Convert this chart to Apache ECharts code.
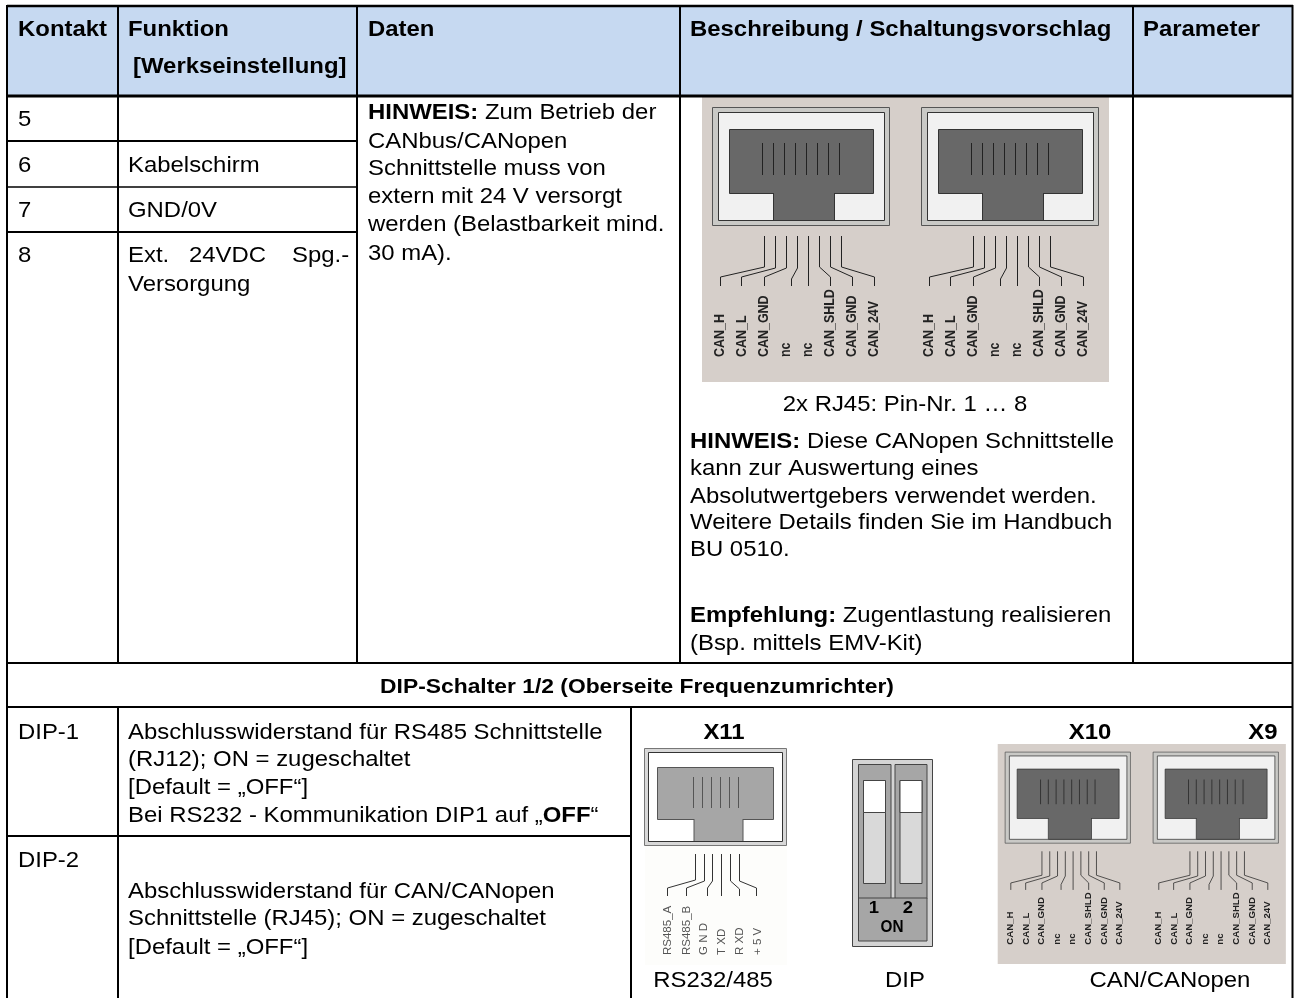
<!DOCTYPE html>
<html>
<head>
<meta charset="utf-8">
<title>Kontakt</title>
<style>html,body{margin:0;padding:0;background:#fff}#chart{width:1294px;height:998px}</style>
<script src="https://cdn.jsdelivr.net/npm/echarts@6/dist/echarts.min.js"></script>
</head>
<body>
<div id="chart"></div>
<script>
// table content
const headers = ['Kontakt', 'Funktion', '[Werkseinstellung]', 'Daten', 'Beschreibung / Schaltungsvorschlag', 'Parameter'];
const contacts = ['5', '6', '7', '8'];
const functions = ['Kabelschirm', 'GND/0V', 'Ext.', '24VDC', 'Spg.-', 'Versorgung'];
const datenLines = ['{b|HINWEIS:} Zum Betrieb der', 'CANbus/CANopen', 'Schnittstelle muss von', 'extern mit 24 V versorgt', 'werden (Belastbarkeit mind.', '30 mA).'];
const pinCaption = '2x RJ45: Pin-Nr. 1 … 8';
const hinweisLines = ['{b|HINWEIS:} Diese CANopen Schnittstelle', 'kann zur Auswertung eines', 'Absolutwertgebers verwendet werden.', 'Weitere Details finden Sie im Handbuch', 'BU 0510.'];
const empfehlungLines = ['{b|Empfehlung:} Zugentlastung realisieren', '(Bsp. mittels EMV-Kit)'];
const dipTitle = 'DIP-Schalter 1/2 (Oberseite Frequenzumrichter)';
const dipNames = ['DIP-1', 'DIP-2'];
const dip1Lines = ['Abschlusswiderstand für RS485 Schnittstelle', '(RJ12); ON = zugeschaltet', '[Default = „OFF“]', 'Bei RS232 - Kommunikation DIP1 auf „{b|OFF}“'];
const dip2Lines = ['Abschlusswiderstand für CAN/CANopen', 'Schnittstelle (RJ45); ON = zugeschaltet', '[Default = „OFF“]'];
const canPins = ['CAN_H', 'CAN_L', 'CAN_GND', 'nc', 'nc', 'CAN_SHLD', 'CAN_GND', 'CAN_24V'];
const rsPins = ['RS485_A', 'RS485_B', 'G N D', 'T XD', 'R XD', '+ 5 V'];
const portNames = ['X11', 'X10', 'X9'];
const captions = ['RS232/485', 'DIP', 'CAN/CANopen'];

const FONT = '"Liberation Sans", Arial, sans-serif';
const SIZE = 22;
const STRETCH = 1.087;   // the scan is a bit wider than tall
const els = [];

function rect(x, y, w, h, fill, stroke, lw) {
  return { type: 'rect', shape: { x, y, width: w, height: h }, style: { fill: fill || 'none', stroke: stroke || 'none', lineWidth: lw || 0 } };
}
function line(x1, y1, x2, y2, lw, color) {
  return { type: 'line', shape: { x1, y1, x2, y2 }, style: { stroke: color || '#000', lineWidth: lw || 2 } };
}
function poly(points, color, lw) {
  return { type: 'polyline', shape: { points }, style: { stroke: color, lineWidth: lw, fill: 'none' } };
}
function label(text, x, y, opt) {
  opt = opt || {};
  return {
    type: 'text', x, y: y + 1, rotation: opt.rotation || 0, scaleX: opt.stretch || STRETCH,
    style: {
      text, fontFamily: FONT, fontSize: opt.size || SIZE, fontWeight: opt.bold ? 'bold' : 'normal',
      fill: opt.color || '#000', align: opt.align || 'left', verticalAlign: 'middle',
      rich: { b: { fontFamily: FONT, fontSize: opt.size || SIZE, fontWeight: 'bold', fill: '#000' } }
    }
  };
}

// RJ45 pair, drawn in the coordinates of the big one
function rj45(dx) {
  const out = [
    rect(712.5 + dx, 107.5, 177, 118, '#c9c9c6', '#555', 1),
    rect(718.5 + dx, 112.5, 166, 108, '#f1f1f1', '#333', 1),
    rect(729.5 + dx, 129.5, 144, 64, '#686868', '#333', 1),
    rect(773.5 + dx, 192, 61, 28, '#686868', null, 0),
    line(773.5 + dx, 193, 773.5 + dx, 220, 1, '#333'),
    line(834.5 + dx, 193, 834.5 + dx, 220, 1, '#333'),
    line(773.5 + dx, 220.5, 834.5 + dx, 220.5, 1, '#333')
  ];
  const wires = [
    [[764.5, 236], [764.5, 267], [720.5, 277], [720.5, 286]],
    [[775.5, 236], [775.5, 268], [741.5, 277], [741.5, 286]],
    [[786.5, 236], [786.5, 268], [764.5, 277], [764.5, 286]],
    [[797.5, 236], [797.5, 268], [791.5, 279], [791.5, 286]],
    [[808.5, 236], [808.5, 286]],
    [[819.5, 236], [819.5, 267], [830.5, 277], [830.5, 286]],
    [[830.5, 236], [830.5, 267], [852.5, 277], [852.5, 286]],
    [[841.5, 236], [841.5, 267], [874.5, 277], [874.5, 286]]
  ];
  const pinX = [720, 742, 764, 786, 808, 830, 852, 874];
  for (let i = 0; i < 8; i++) {
    const cx = 762.5 + i * 11 + dx;
    out.push(line(cx, 143, cx, 175, 1, '#222'));
    out.push(poly(wires[i].map(p => [p[0] + dx, p[1]]), '#222', 1));
    out.push(label(canPins[i], pinX[i] + dx, 356, { size: 14, stretch: 0.89, bold: true, color: '#222', rotation: Math.PI / 2 }));
  }
  return out;
}
function rjPanel() {
  return [rect(702, 97, 407, 285, '#d6cfca')].concat(rj45(0), rj45(209));
}

// header band and grid
els.push(rect(7, 6, 1285, 90, '#c6d9f1'));

// connector pictures
els.push({ type: 'group', children: rjPanel() });
els.push({ type: 'group', x: 997.7 - 702 * 0.708, y: 744 - 97 * 0.772, scaleX: 0.708, scaleY: 0.772, children: rjPanel() });

// RS232/485 port
els.push(rect(645, 845, 142, 120, '#fdfdfb'));
els.push(rect(644.5, 748.5, 142, 97, '#d8d8d8', '#777', 1));
els.push(rect(648.5, 752.5, 134, 89, '#fff', '#333', 1));
els.push(rect(657.5, 767.5, 116, 52, '#a6a6a6', '#555', 1));
els.push(rect(694, 818, 49, 23, '#a6a6a6'));
els.push(line(694, 819, 694, 841, 1, '#555'));
els.push(line(743, 819, 743, 841, 1, '#555'));
els.push(line(694, 841.5, 743, 841.5, 1, '#333'));
const rsWires = [
  [[695.5, 854], [695.5, 880], [667.5, 888], [667.5, 896]],
  [[704.5, 854], [704.5, 881], [686.5, 888], [686.5, 896]],
  [[712.5, 854], [712.5, 881], [707.5, 888], [707.5, 896]],
  [[721.5, 854], [721.5, 896]],
  [[730.5, 854], [730.5, 881], [739.5, 889], [739.5, 896]],
  [[739.5, 854], [739.5, 881], [756.5, 888], [756.5, 896]]
];
const rsLabelX = [668, 687, 704, 722, 740, 758];
rsWires.forEach((w, i) => {
  const cx = 693.5 + i * 9;
  els.push(line(cx, 777, cx, 808, 1, '#555'));
  els.push(poly(w, '#333', 1));
  els.push(label(rsPins[i], rsLabelX[i], 954, { size: 11.5, stretch: 1, color: '#555', rotation: Math.PI / 2 }));
});

// DIP switch
els.push(rect(852.5, 759.5, 80, 187, '#d4d4d4', '#444', 1));
els.push(rect(858.5, 764.5, 32.5, 134, '#a6a6a6', '#444', 1));
els.push(rect(895, 764.5, 32, 134, '#a6a6a6', '#444', 1));
els.push(rect(858.5, 898, 68.5, 43, '#a6a6a6', '#444', 1));
[863.5, 900].forEach(x => {
  els.push(rect(x, 780.5, 22, 103, '#d9d9d9', '#444', 1));
  els.push(rect(x, 780.5, 22, 32, '#fff', '#444', 1));
});
els.push(label('1', 874, 907, { size: 17, bold: true, align: 'center' }));
els.push(label('2', 908, 907, { size: 17, bold: true, align: 'center' }));
els.push(label('ON', 892, 926, { size: 17, stretch: 0.9, bold: true, align: 'center' }));

// grid lines
[[7, 6, 1293, 6, 2.5], [7, 96, 1293, 96, 3], [7, 141, 357, 141, 2], [7, 187, 357, 187, 1.5], [7, 232, 357, 232, 2],
 [7, 663, 1293, 663, 2], [7, 707, 1293, 707, 2], [7, 836, 631, 836, 2],
 [7, 5, 7, 998, 2], [118, 6, 118, 663, 2], [357, 6, 357, 663, 2], [680, 6, 680, 663, 2], [1133, 6, 1133, 663, 2],
 [1292.5, 5, 1292.5, 998, 2], [118, 707, 118, 998, 2], [631, 707, 631, 998, 2]
].forEach(l => els.push(line(l[0], l[1], l[2], l[3], l[4])));

// header text
const headX = [18, 128, 133, 368, 690, 1143];
const headY = [29, 29, 66, 29, 29, 29];
headers.forEach((t, i) => els.push(label(t, headX[i], headY[i], { bold: true })));

// contact rows
const rowY = [119, 165, 210, 255];
contacts.forEach((t, i) => els.push(label(t, 18, rowY[i])));
const funcX = [128, 128, 128, 189, 292, 128];
const funcY = [165, 210, 255, 255, 255, 284];
functions.forEach((t, i) => els.push(label(t, funcX[i], funcY[i])));
const datenY = [112, 141, 168, 196, 224, 253];
datenLines.forEach((t, i) => els.push(label(t, 368, datenY[i])));

els.push(label(pinCaption, 905, 404, { align: 'center' }));
const hinweisY = [441, 468, 496, 522, 549];
hinweisLines.forEach((t, i) => els.push(label(t, 690, hinweisY[i])));
const empfY = [615, 643];
empfehlungLines.forEach((t, i) => els.push(label(t, 690, empfY[i])));

els.push(label(dipTitle, 637, 686, { size: 21, bold: true, align: 'center' }));
els.push(label(dipNames[0], 18, 732));
els.push(label(dipNames[1], 18, 860));
const dip1Y = [732, 759, 787, 815];
dip1Lines.forEach((t, i) => els.push(label(t, 128, dip1Y[i])));
const dip2Y = [891, 918, 947];
dip2Lines.forEach((t, i) => els.push(label(t, 128, dip2Y[i])));

const portX = [724, 1090, 1263];
portNames.forEach((t, i) => els.push(label(t, portX[i], 732, { bold: true, align: 'center' })));
const capX = [713, 905, 1170];
captions.forEach((t, i) => els.push(label(t, capX[i], 980, { align: 'center' })));

const myChart = echarts.init(document.getElementById('chart'), null, { renderer: 'canvas' });
myChart.setOption({ animation: false, graphic: { elements: els } });
</script>
</body>
</html>
